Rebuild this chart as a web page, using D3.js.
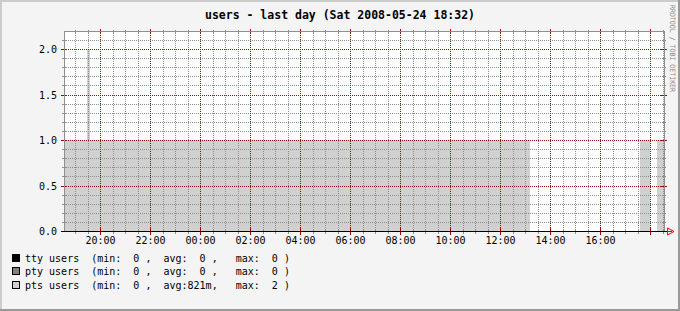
<!DOCTYPE html>
<html>
<head>
<meta charset="utf-8">
<script src="https://cdn.jsdelivr.net/npm/d3@7"></script>
<style>
  html, body { margin: 0; padding: 0; background: #f4f4f4; }
  svg { display: block; }
  text { font-family: "DejaVu Sans Mono", monospace; white-space: pre; }
</style>
</head>
<body>
<svg id="chart" width="680" height="311"></svg>
<script>
// ---------------- data ----------------
const titleText = "users - last day (Sat 2008-05-24 18:32)";
const watermark = "RRDTOOL / TOBI OETIKER";
const timeStart = "2008-05-23 18:32";
const timeEnd = "2008-05-24 18:32";

// step-series breakpoints (value holds until the next time)
const stepTimes = ["2008-05-23 18:32", "2008-05-23 19:27", "2008-05-23 19:34", "2008-05-24 13:10",
                   "2008-05-24 17:34", "2008-05-24 17:58", "2008-05-24 18:15", "2008-05-24 18:32"];
const ttyValues = [0, 0, 0, 0, 0, 0, 0, 0];
const ptyValues = [0, 0, 0, 0, 0, 0, 0, 0];
const ptsValues = [1, 2, 1, 0, 1, 0, 1, 1];

const seriesNames = ["tty users", "pty users", "pts users"];
const seriesColors = ["#000000", "#808080", "#d0d0d0"];
const minLabels = ["  0 ", "  0 ", "  0 "];
const avgLabels = ["  0 ", "  0 ", "821m"];
const maxLabels = ["  0 ", "  0 ", "  2 "];

const yTicks = [0.0, 0.5, 1.0, 1.5, 2.0];
const yMinor = [0.1,0.2,0.3,0.4,0.6,0.7,0.8,0.9,1.1,1.2,1.3,1.4,1.6,1.7,1.8,1.9,2.1];
const xTickLabels = ["20:00", "22:00", "00:00", "02:00", "04:00", "06:00", "08:00", "10:00", "12:00", "14:00", "16:00"];

// ---------------- drawing ----------------
const parse = d3.timeParse("%Y-%m-%d %H:%M");
const W = 680, H = 311;
const L = 64, R = 664, T = 31, B = 231;
const svg = d3.select("#chart");

const x = d3.scaleTime().domain([parse(timeStart), parse(timeEnd)]).range([L, R]);
const y = d3.scaleLinear().domain([0, 2.2]).range([231.5, 31.3]);
const fx = t => Math.floor(x(t)) + 0.5;
const fy = v => Math.floor(y(v)) + 0.5;

// background + shading
svg.append("rect").attr("width", W).attr("height", H).attr("fill", "#f4f4f4");
svg.append("rect").attr("x", 0).attr("y", 0).attr("width", W).attr("height", 2).attr("fill", "#cbcbcb");
svg.append("rect").attr("x", 0).attr("y", 0).attr("width", 2).attr("height", H).attr("fill", "#cbcbcb");
svg.append("rect").attr("x", 0).attr("y", H - 2).attr("width", W).attr("height", 2).attr("fill", "#999999");
svg.append("rect").attr("x", W - 2).attr("y", 0).attr("width", 2).attr("height", H).attr("fill", "#999999");

// canvas
svg.append("rect").attr("x", L).attr("y", T).attr("width", R - L).attr("height", B - T).attr("fill", "#ffffff");

// areas
const area = d3.area().curve(d3.curveStepAfter)
  .x(d => x(d.t)).y0(B).y1(d => Math.floor(y(d.v)));
[ttyValues, ptyValues, ptsValues].forEach((vals, k) => {
  const data = stepTimes.map((t, i) => ({ t: parse(t), v: vals[i] }));
  svg.append("path").datum(data).attr("d", area).attr("fill", seriesColors[k]).attr("shape-rendering", "crispEdges");
});

const g = svg.append("g").attr("shape-rendering", "crispEdges");
const minorCol = "#8f8f8f", majorCol = "#8f0f0f";

// minor horizontal grid
yMinor.forEach(v => {
  const yy = fy(v);
  g.append("line").attr("x1", L).attr("x2", R).attr("y1", yy).attr("y2", yy)
    .attr("stroke", minorCol).attr("stroke-dasharray", "1,1");
  g.append("line").attr("x1", L - 2).attr("x2", L + 2).attr("y1", yy).attr("y2", yy).attr("stroke", minorCol);
  g.append("line").attr("x1", R - 2).attr("x2", R + 2).attr("y1", yy).attr("y2", yy).attr("stroke", minorCol);
});

// vertical grid
const halfHours = d3.timeMinute.every(30).range(x.domain()[0], x.domain()[1]);
const majorHours = d3.timeHour.every(2).range(x.domain()[0], x.domain()[1]);
halfHours.forEach(t => {
  if (t.getMinutes() === 0 && t.getHours() % 2 === 0) return;
  const xx = fx(t);
  g.append("line").attr("x1", xx).attr("x2", xx).attr("y1", T).attr("y2", B)
    .attr("stroke", minorCol).attr("stroke-dasharray", "1,1");
  g.append("line").attr("x1", xx).attr("x2", xx).attr("y1", B - 2).attr("y2", B + 3).attr("stroke", minorCol);
  g.append("line").attr("x1", xx).attr("x2", xx).attr("y1", T - 1).attr("y2", T + 3).attr("stroke", minorCol);
});
majorHours.forEach(t => {
  const xx = fx(t);
  g.append("line").attr("x1", xx).attr("x2", xx).attr("y1", T).attr("y2", B)
    .attr("stroke", majorCol).attr("stroke-dasharray", "1,1");
  g.append("line").attr("x1", xx).attr("x2", xx).attr("y1", B - 3).attr("y2", B + 4).attr("stroke", majorCol);
  g.append("line").attr("x1", xx).attr("x2", xx).attr("y1", T - 2).attr("y2", T + 3).attr("stroke", majorCol);
});

// major horizontal grid
yTicks.forEach(v => {
  const yy = fy(v);
  if (v > 0) {
    g.append("line").attr("x1", L).attr("x2", R).attr("y1", yy).attr("y2", yy)
      .attr("stroke", majorCol).attr("stroke-dasharray", "1,1");
  }
  g.append("line").attr("x1", L - 3).attr("x2", L + 3).attr("y1", yy).attr("y2", yy).attr("stroke", majorCol);
  g.append("line").attr("x1", R - 3).attr("x2", R + 3).attr("y1", yy).attr("y2", yy).attr("stroke", majorCol);
});

// frame
g.append("line").attr("x1", L).attr("x2", R + 1).attr("y1", T + 0.5).attr("y2", T + 0.5).attr("stroke", "#8f8f8f");
g.append("line").attr("x1", L + 0.5).attr("x2", L + 0.5).attr("y1", T).attr("y2", B).attr("stroke", "#8f8f8f");
g.append("line").attr("x1", R + 0.5).attr("x2", R + 0.5).attr("y1", T).attr("y2", B).attr("stroke", "#8f8f8f");
// x axis
g.append("line").attr("x1", L - 3).attr("x2", R + 4).attr("y1", B + 0.5).attr("y2", B + 0.5).attr("stroke", "#000000");
// arrow
svg.append("path").attr("d", `M${R + 3.5},${B - 3} L${R + 3.5},${B + 4} L${R + 10},${B + 0.5} Z`)
  .attr("fill", "none").attr("stroke", "#ff0000").attr("stroke-width", 1);
svg.append("line").attr("x1", R + 3).attr("x2", R + 8).attr("y1", B + 0.5).attr("y2", B + 0.5)
  .attr("stroke", "#ff0000").attr("shape-rendering", "crispEdges");

// y labels
svg.append("g").selectAll("text").data(yTicks).join("text")
  .attr("x", 57).attr("y", d => fy(d) + 3.5).attr("text-anchor", "end")
  .attr("font-size", 10).attr("fill", "#000").text(d => d3.format(".1f")(d));

// x labels
const labelTimes = majorHours.filter(t => x(t) + 16 <= R).slice(0, xTickLabels.length);
svg.append("g").selectAll("text").data(labelTimes).join("text")
  .attr("x", d => fx(d)).attr("y", 244).attr("text-anchor", "middle")
  .attr("font-size", 10).attr("fill", "#000").text((d, i) => xTickLabels[i]);

// title
svg.append("text").attr("x", 340).attr("y", 19).attr("text-anchor", "middle")
  .attr("font-size", 11.5).attr("font-weight", "bold").attr("fill", "#000").text(titleText);

// watermark
svg.append("text").attr("transform", "translate(670,5) rotate(90)")
  .attr("font-size", 7.2).attr("fill", "#8a8a8a")
  .attr("textLength", 87).attr("lengthAdjust", "spacingAndGlyphs").text(watermark);

// legend
const leg = svg.append("g");
seriesNames.forEach((name, i) => {
  const yy = 254 + i * 13.33;
  leg.append("rect").attr("x", 12.5).attr("y", Math.round(yy) + 0.5).attr("width", 7).attr("height", 7)
    .attr("fill", seriesColors[i]).attr("stroke", "#000").attr("shape-rendering", "crispEdges");
  leg.append("text").attr("x", 25).attr("y", yy + 8).attr("font-size", 10).attr("fill", "#000")
    .text(`${name}  (min:${minLabels[i]},  avg:${avgLabels[i]},   max:${maxLabels[i]})`);
});
</script>
</body>
</html>
